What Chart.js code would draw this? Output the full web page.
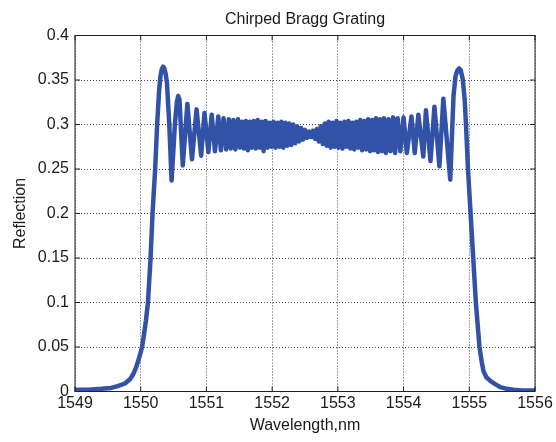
<!DOCTYPE html>
<html>
<head>
<meta charset="utf-8">
<title>Chirped Bragg Grating</title>
<script src="https://cdn.jsdelivr.net/npm/chart.js@4/dist/chart.umd.min.js"></script>
<style>
  html, body { margin: 0; padding: 0; background: #fff; }
  #wrap { width: 556px; height: 442px; }
</style>
</head>
<body>
<div id="wrap"><canvas id="chart" width="556" height="442"></canvas></div>
<script>
// valores (comprimento de onda em nm, reflexão)
const wavelength = [
  1549.00, 1549.20, 1549.40, 1549.55, 1549.65, 1549.76, 1549.84, 1549.89, 1549.93, 1549.96,
  1550.00, 1550.02, 1550.05, 1550.08, 1550.11, 1550.15, 1550.18, 1550.22, 1550.25, 1550.28,
  1550.30, 1550.32, 1550.34, 1550.36, 1550.38, 1550.40, 1550.435, 1550.47, 1550.52, 1550.55,
  1550.57, 1550.59, 1550.64, 1550.71, 1550.78, 1550.85, 1550.92,
  1550.97, 1551.03, 1551.08, 1551.13, 1551.18, 1551.22, 1551.26, 1551.30, 1551.34, 1551.37,
  1551.41, 1551.44, 1551.48, 1551.51, 1551.54, 1551.57, 1551.60, 1551.63, 1551.66, 1551.69,
  1551.72, 1551.75, 1551.78, 1551.81, 1551.84, 1551.87, 1551.90, 1551.93, 1551.96, 1551.99,
  1552.02, 1552.05, 1552.08, 1552.11, 1552.14, 1552.17, 1552.20, 1552.23, 1552.26, 1552.29,
  1552.32, 1552.35, 1552.38, 1552.41, 1552.44, 1552.47, 1552.50, 1552.53, 1552.56, 1552.59,
  1552.62, 1552.65, 1552.68, 1552.71, 1552.74, 1552.77, 1552.80, 1552.83, 1552.86, 1552.89,
  1552.92, 1552.95, 1552.98, 1553.01, 1553.04, 1553.07, 1553.10, 1553.13, 1553.16, 1553.19,
  1553.22, 1553.25, 1553.28, 1553.31, 1553.34, 1553.37, 1553.40, 1553.43, 1553.46, 1553.49,
  1553.52, 1553.55, 1553.58, 1553.61, 1553.64, 1553.67, 1553.70, 1553.73, 1553.77, 1553.80,
  1553.84, 1553.87, 1553.91, 1553.95, 1554.00, 1554.05, 1554.12, 1554.17, 1554.225, 1554.30,
  1554.34, 1554.41, 1554.47, 1554.545, 1554.605, 1554.71, 1554.76, 1554.79, 1554.82, 1554.845,
  1554.87, 1554.90, 1554.93, 1554.95, 1554.98, 1555.02, 1555.06, 1555.10, 1555.155, 1555.19,
  1555.215, 1555.26, 1555.32, 1555.40, 1555.47, 1555.57, 1555.67, 1555.80, 1556.00
];
const reflection = [
  0.002, 0.002, 0.003, 0.004, 0.006, 0.009, 0.014, 0.020, 0.027, 0.034,
  0.044, 0.050, 0.064, 0.080, 0.100, 0.150, 0.200, 0.250, 0.300, 0.338,
  0.354, 0.362, 0.365, 0.363, 0.357, 0.346, 0.300, 0.237, 0.300, 0.325,
  0.332, 0.328, 0.254, 0.323, 0.261, 0.317, 0.265,
  0.313, 0.269, 0.311, 0.270, 0.309, 0.271, 0.307, 0.272, 0.306, 0.273,
  0.305, 0.272, 0.306, 0.274, 0.303, 0.273, 0.304, 0.271, 0.303, 0.274,
  0.304, 0.273, 0.305, 0.274, 0.303, 0.270, 0.304, 0.274, 0.302, 0.275,
  0.303, 0.274, 0.302, 0.275, 0.303, 0.274, 0.302, 0.276, 0.301, 0.277,
  0.300, 0.279, 0.298, 0.281, 0.296, 0.283, 0.294, 0.285, 0.292, 0.286,
  0.293, 0.284, 0.295, 0.281, 0.298, 0.278, 0.301, 0.276, 0.303, 0.274,
  0.302, 0.275, 0.304, 0.274, 0.302, 0.273, 0.303, 0.275, 0.304, 0.273,
  0.302, 0.272, 0.303, 0.274, 0.305, 0.271, 0.304, 0.272, 0.306, 0.270,
  0.305, 0.271, 0.307, 0.269, 0.306, 0.270, 0.307, 0.268, 0.306, 0.270,
  0.308, 0.268, 0.307, 0.270, 0.308, 0.268, 0.309, 0.268, 0.311, 0.264,
  0.316, 0.259, 0.320, 0.253, 0.329, 0.238, 0.332, 0.354, 0.361, 0.363,
  0.361, 0.351, 0.328, 0.300, 0.250, 0.200, 0.150, 0.100, 0.050, 0.033,
  0.023, 0.016, 0.012, 0.008, 0.005, 0.003, 0.002, 0.001, 0.001
];
const xTicks = [1549, 1550, 1551, 1552, 1553, 1554, 1555, 1556];
const yTicks = [0, 0.05, 0.1, 0.15, 0.2, 0.25, 0.3, 0.35, 0.4];

const fonte = '"Liberation Sans", Arial, sans-serif';
const corTexto = '#1a1a1a';

const pontos = wavelength.map(function (w, i) {
    return { x: w, y: reflection[i] };
});

// caixa do gráfico e marcas dos eixos para dentro (estilo MATLAB)
const caixaPlugin = {
    id: 'caixa',
    afterDraw: function (chart) {
        const ctx = chart.ctx;
        const a = chart.chartArea;
        const sx = chart.scales.x;
        const sy = chart.scales.y;
        ctx.save();
        ctx.strokeStyle = '#222';
        ctx.lineWidth = 1;
        ctx.setLineDash([]);
        ctx.strokeRect(a.left, a.top, a.right - a.left, a.bottom - a.top);
        ctx.beginPath();
        xTicks.forEach(function (v) {
            const px = sx.getPixelForValue(v);
            ctx.moveTo(px, a.bottom); ctx.lineTo(px, a.bottom - 5);
            ctx.moveTo(px, a.top); ctx.lineTo(px, a.top + 5);
        });
        yTicks.forEach(function (v) {
            const py = sy.getPixelForValue(v);
            ctx.moveTo(a.left, py); ctx.lineTo(a.left + 5, py);
            ctx.moveTo(a.right, py); ctx.lineTo(a.right - 5, py);
        });
        ctx.stroke();
        ctx.restore();
    }
};

const ctx = document.getElementById('chart').getContext('2d');
const chart = new Chart(ctx, {
    type: 'line',
    data: {
        datasets: [{
            label: 'Reflection',
            data: pontos,
            borderColor: 'rgb(50, 82, 168)',
            borderWidth: 4.5,
            borderJoinStyle: 'round',
            pointRadius: 0,
            fill: false,
            tension: 0
        }]
    },
    options: {
        responsive: false,
        animation: false,
        layout: { padding: { top: 0, right: 21, bottom: 0, left: 0 } },
        plugins: {
            legend: { display: false },
            tooltip: { enabled: false },
            title: {
                display: true,
                text: 'Chirped Bragg Grating',
                fullSize: false,
                color: corTexto,
                font: { family: fonte, size: 16, weight: 'normal', lineHeight: 1.2 },
                padding: { top: 9.5, bottom: 6.8 }
            }
        },
        scales: {
            x: {
                type: 'linear',
                min: 1549,
                max: 1556,
                afterFit: function (s) { s.height = 50.5; },
                afterBuildTicks: function (s) {
                    s.ticks = xTicks.map(function (v) { return { value: v }; });
                },
                grid: { color: '#444', lineWidth: 1, drawTicks: false },
                border: { display: false, dash: [1, 2] },
                ticks: {
                    color: corTexto,
                    padding: 2,
                    maxRotation: 0,
                    font: { family: fonte, size: 16 },
                    callback: function (v) { return String(v); }
                },
                title: {
                    display: true,
                    text: 'Wavelength,nm',
                    color: corTexto,
                    font: { family: fonte, size: 16, lineHeight: 1.2 },
                    padding: { top: 0, bottom: 6.4 }
                }
            },
            y: {
                min: 0,
                max: 0.4,
                afterFit: function (s) { s.width = 75; },
                afterBuildTicks: function (s) {
                    s.ticks = yTicks.map(function (v) { return { value: v }; });
                },
                grid: { color: '#444', lineWidth: 1, drawTicks: false },
                border: { display: false, dash: [1, 2] },
                ticks: {
                    color: corTexto,
                    padding: 6,
                    font: { family: fonte, size: 16 },
                    callback: function (v) { return String(parseFloat(v.toFixed(2))); }
                },
                title: {
                    display: true,
                    text: 'Reflection',
                    color: corTexto,
                    font: { family: fonte, size: 16, lineHeight: 1.2 },
                    padding: { top: 11.4, bottom: 0 }
                }
            }
        }
    },
    plugins: [caixaPlugin]
});
</script>
</body>
</html>
